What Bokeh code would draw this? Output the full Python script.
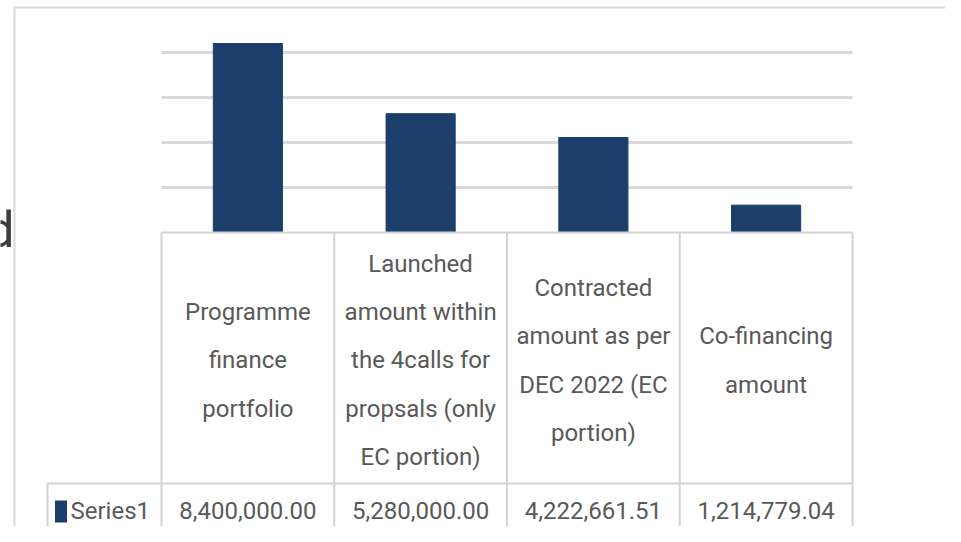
from bokeh.plotting import figure
from bokeh.models import Range1d
from bokeh.core.properties import value
from bokeh.embed import file_html
from bokeh.resources import INLINE

# ---------------- data ----------------
categories = [
    "Programme finance portfolio",
    "Launched amount within the 4calls for propsals (only EC portion)",
    "Contracted amount as per DEC 2022 (EC portion)",
    "Co-financing amount",
]
category_lines = [
    ["Programme", "finance", "portfolio"],
    ["Launched", "amount within", "the 4calls for", "propsals (only", "EC portion)"],
    ["Contracted", "amount as per", "DEC 2022 (EC", "portion)"],
    ["Co-financing", "amount"],
]
series_name = "Series1"
series1 = [8400000.00, 5280000.00, 4222661.51, 1214779.04]
gridline_values = [2000000, 4000000, 6000000, 8000000]

# ---------------- layout (reference pixel geometry) ----------------
W, H = 945, 526
OX, OY = 0, 0                 # where the canvas lands in the picture
PLOT_LEFT = 161.0             # left edge of plot area / table
CAT_W = 172.75                # width of one category column
BASE_Y = 232.0                # y pixel of value 0
PX_PER_VAL = 22.5 / 1e6       # pixels per unit of value
ROW_Y = 483.0                 # separator between header and value row
LEGEND_LEFT = 47.0
BOTTOM = 560.0

def ux(X):
    return (X - PLOT_LEFT) / CAT_W

def vy(Y):
    return (BASE_Y - Y) / PX_PER_VAL

BAR_COLOR = "#1b3e6a"
GRID_COLOR = "#d9d9d9"
TABLE_COLOR = "#d3d3d3"
TEXT_COLOR = "#595959"
FONT = "Roboto"
FONT_PX = 24

n = len(categories)
xs = [i + 0.5 for i in range(n)]

p = figure(
    width=W, height=H,
    x_range=Range1d(ux(OX), ux(OX + W)),
    y_range=Range1d(vy(OY + H), vy(OY)),
    x_axis_location=None, y_axis_location=None,
    min_border=0, toolbar_location=None, output_backend="svg",
    outline_line_color=None,
)
p.grid.grid_line_color = None
p.background_fill_color = "white"
p.border_fill_color = "white"

# outer chart border
p.segment(x0=[ux(14)], y0=[vy(6)], x1=[ux(14)], y1=[vy(BOTTOM)], line_color=GRID_COLOR, line_width=2)
p.segment(x0=[ux(14)], y0=[vy(7)], x1=[ux(OX + W + 20)], y1=[vy(7)], line_color=GRID_COLOR, line_width=2)

# gridlines
p.segment(x0=[0] * len(gridline_values), x1=[n] * len(gridline_values),
          y0=gridline_values, y1=gridline_values, line_color=GRID_COLOR, line_width=3)

# bars
p.vbar(x=xs, top=series1, bottom=0, width=0.4, fill_color=BAR_COLOR, line_color=BAR_COLOR)

# data table lines
p.segment(x0=[0], y0=[0], x1=[n], y1=[0], line_color=TABLE_COLOR, line_width=2)
p.segment(x0=[ux(LEGEND_LEFT)], y0=[vy(ROW_Y)], x1=[n], y1=[vy(ROW_Y)], line_color=TABLE_COLOR, line_width=2)
p.segment(x0=list(range(n + 1)), y0=[0] * (n + 1), x1=list(range(n + 1)), y1=[vy(BOTTOM)] * (n + 1),
          line_color=TABLE_COLOR, line_width=2)
p.segment(x0=[ux(LEGEND_LEFT)], y0=[vy(ROW_Y)], x1=[ux(LEGEND_LEFT)], y1=[vy(BOTTOM)],
          line_color=TABLE_COLOR, line_width=2)

# category header texts
p.text(x=xs, y=[vy(360)] * n, text=["\n".join(l) for l in category_lines],
       text_align="center", text_baseline="middle", text_font=value(FONT),
       text_font_size=f"{FONT_PX}px", text_color=TEXT_COLOR, text_line_height=1.73)

# value row
p.text(x=xs, y=[vy(510)] * n, text=[f"{v:,.2f}" for v in series1],
       text_align="center", text_baseline="middle", text_font=value(FONT),
       text_font_size=f"{FONT_PX}px", text_color=TEXT_COLOR)

# legend key + series name
p.rect(x=[ux(60.5)], y=[vy(511)], width=12, height=22, width_units="screen", height_units="screen",
       fill_color=BAR_COLOR, line_color=None)
p.text(x=[ux(70)], y=[vy(510)], text=[series_name], text_align="left", text_baseline="middle",
       text_font=value(FONT), text_font_size=f"{FONT_PX}px", text_color=TEXT_COLOR)

# letter from the surrounding page, cut by the picture's edge
p.text(x=[ux(14)], y=[vy(229)], text=["d"], text_align="right", text_baseline="alphabetic",
       text_font=value(FONT), text_font_size="50px", text_color="#3c3c3c")

open("out.html", "w").write(file_html(p, INLINE))
